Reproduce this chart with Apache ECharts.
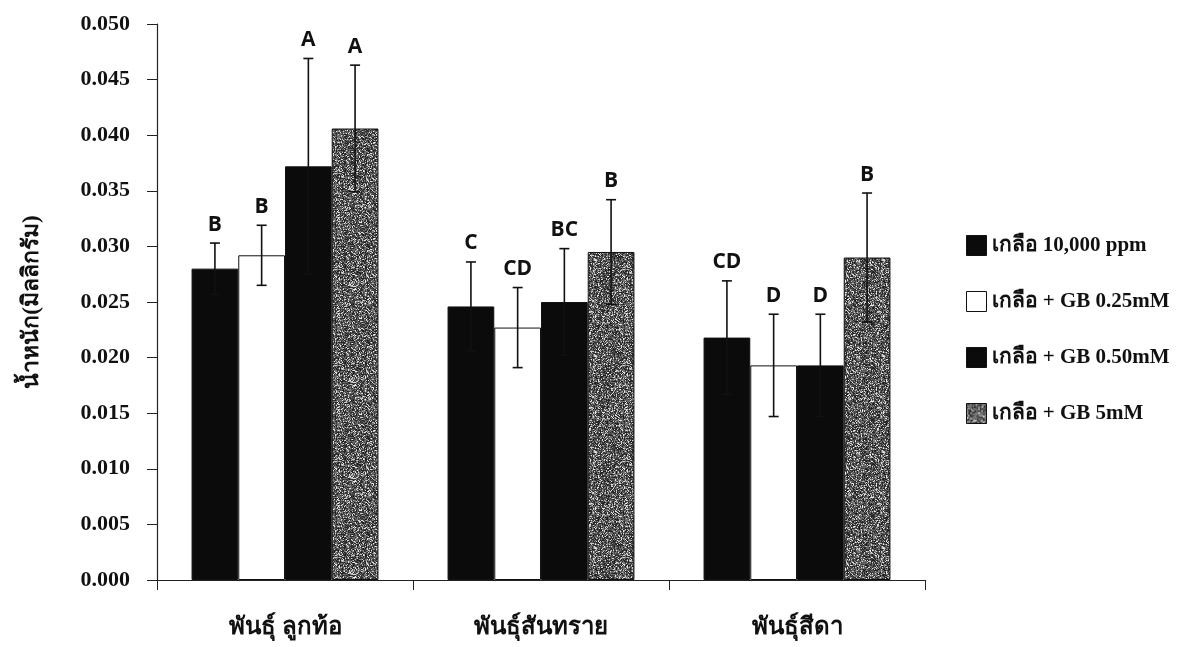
<!DOCTYPE html>
<html>
<head>
<meta charset="utf-8">
<script src="https://cdn.jsdelivr.net/npm/echarts@6/dist/echarts.min.js"></script>
<style>
  html, body { margin: 0; padding: 0; background: #fff; }
  #chart { width: 1183px; height: 647px; }
</style>
</head>
<body>
<div id="chart"></div>
<script>
// Cultivars on the x axis
const categories = ['พันธุ์ ลูกท้อ', 'พันธุ์สันทราย', 'พันธุ์สีดา'];

// Treatments (legend)
const seriesNames = ['เกลือ 10,000 ppm', 'เกลือ + GB 0.25mM', 'เกลือ + GB 0.50mM', 'เกลือ + GB 5mM'];

// Mean weight (mg) per treatment, one value per cultivar
const salt10000 = [0.0280, 0.0246, 0.0218];
const gb025 = [0.0292, 0.0227, 0.0193];
const gb050 = [0.0372, 0.0250, 0.0193];
const gb5 = [0.0406, 0.0295, 0.0290];

// Error bar half-lengths
const errSalt10000 = [0.0023, 0.0040, 0.0051];
const errGb025 = [0.0027, 0.0036, 0.0046];
const errGb050 = [0.0097, 0.0048, 0.0046];
const errGb5 = [0.0057, 0.0047, 0.0058];

// Significance letters
const lettersSalt10000 = ['B', 'C', 'CD'];
const lettersGb025 = ['B', 'CD', 'D'];
const lettersGb050 = ['A', 'BC', 'D'];
const lettersGb5 = ['A', 'B', 'B'];

// Y axis ticks
const yMin = 0, yMax = 0.05, yStep = 0.005;

const values = [salt10000, gb025, gb050, gb5];
const errors = [errSalt10000, errGb025, errGb050, errGb5];
const letters = [lettersSalt10000, lettersGb025, lettersGb050, lettersGb5];

const CAT_GAP = 0.27;

// Speckled dark-grey fill for the 5mM bars, built from a deterministic hash
function speckle() {
  const c = document.createElement('canvas');
  c.width = 96; c.height = 96;
  const ctx = c.getContext('2d');
  const img = ctx.createImageData(96, 96);
  let h = 2166136261;
  for (let i = 0; i < 96 * 96; i++) {
    h ^= i; h = Math.imul(h, 16777619); h ^= h >>> 13; h = Math.imul(h, 0x5bd1e995); h ^= h >>> 15;
    const r = (h >>> 0) % 100;
    let g;
    if (r < 17) g = 175 + r * 4;
    else if (r < 62) g = 25 + (r - 17);
    else g = 80 + (r - 62) * 1.5;
    img.data[i * 4] = g; img.data[i * 4 + 1] = g; img.data[i * 4 + 2] = g; img.data[i * 4 + 3] = 255;
  }
  ctx.putImageData(img, 0, 0);
  return c;
}

const fills = [
  '#0b0b0b',
  '#ffffff',
  '#0b0b0b',
  { image: speckle(), repeat: 'repeat' }
];

function errorSeries(k) {
  return {
    type: 'custom',
    name: seriesNames[k] + ' err',
    z: 5,
    silent: true,
    data: values[k].map((v, i) => [i, v, errors[k][i]]),
    encode: { x: 0, y: 1 },
    renderItem: function (params, api) {
      const cat = api.value(0), v = api.value(1), e = api.value(2);
      const catW = api.size([1, 0])[0];
      const groupW = catW * (1 - CAT_GAP);
      const bw = groupW / 4;
      const cx = api.coord([cat, v])[0] - groupW / 2 + (k + 0.5) * bw;
      const yTop = api.coord([cat, v + e])[1];
      const yBot = api.coord([cat, v - e])[1];
      const cap = 5;
      const st = { stroke: '#111', lineWidth: 1.6 };
      return {
        type: 'group',
        children: [
          { type: 'line', shape: { x1: cx, y1: yTop, x2: cx, y2: yBot }, style: st },
          { type: 'line', shape: { x1: cx - cap, y1: yTop, x2: cx + cap, y2: yTop }, style: st },
          { type: 'line', shape: { x1: cx - cap, y1: yBot, x2: cx + cap, y2: yBot }, style: st },
          {
            type: 'text',
            style: {
              x: cx, y: yTop - 8,
              text: letters[k][params.dataIndex],
              align: 'center', verticalAlign: 'bottom',
              font: 'bold 21px "Open Sans", Lato, sans-serif',
              fill: '#111'
            }
          }
        ]
      };
    }
  };
}

const barSeries = seriesNames.map((name, k) => ({
  type: 'bar',
  name: name,
  data: values[k],
  barGap: '0%',
  barCategoryGap: (CAT_GAP * 100) + '%',
  itemStyle: { color: fills[k], borderColor: '#111', borderWidth: 1 },
  emphasis: { disabled: true }
}));

const chart = echarts.init(document.getElementById('chart'), null, { renderer: 'canvas' });
chart.setOption({
  animation: false,
  backgroundColor: '#ffffff',
  grid: { left: 157, right: 258, top: 24, bottom: 67 },
  legend: {
    orient: 'vertical',
    left: 961,
    top: 230,
    itemWidth: 20,
    itemHeight: 20,
    itemGap: 35,
    icon: 'rect',
    data: seriesNames,
    textStyle: { fontFamily: '"Liberation Serif", serif', fontWeight: 'bold', fontSize: 21, color: '#111' },
    itemStyle: { borderColor: '#111', borderWidth: 1 }
  },
  xAxis: {
    type: 'category',
    data: categories,
    axisLine: { lineStyle: { color: '#222', width: 1.2 } },
    axisTick: { show: true, length: 10, lineStyle: { color: '#222' } },
    axisLabel: { margin: 36, fontSize: 24, fontWeight: 'bold', color: '#111', fontFamily: '"Liberation Sans Narrow", "Liberation Serif", sans-serif' }
  },
  yAxis: {
    type: 'value',
    min: yMin, max: yMax, interval: yStep,
    name: 'น้ำหนัก(มิลลิกรัม)',
    nameLocation: 'middle',
    nameRotate: 90,
    nameGap: 113,
    nameTextStyle: { fontSize: 23, fontWeight: 'bold', color: '#111', fontFamily: '"Liberation Serif", serif' },
    axisLine: { show: true, lineStyle: { color: '#222', width: 1.2 } },
    axisTick: { show: true, length: 10, lineStyle: { color: '#222' } },
    splitLine: { show: false },
    axisLabel: {
      margin: 27,
      fontSize: 22, fontWeight: 'bold', color: '#111', fontFamily: '"Liberation Serif", serif',
      formatter: v => v.toFixed(3)
    }
  },
  series: barSeries.concat(seriesNames.map((n, k) => errorSeries(k)))
});
</script>
</body>
</html>
